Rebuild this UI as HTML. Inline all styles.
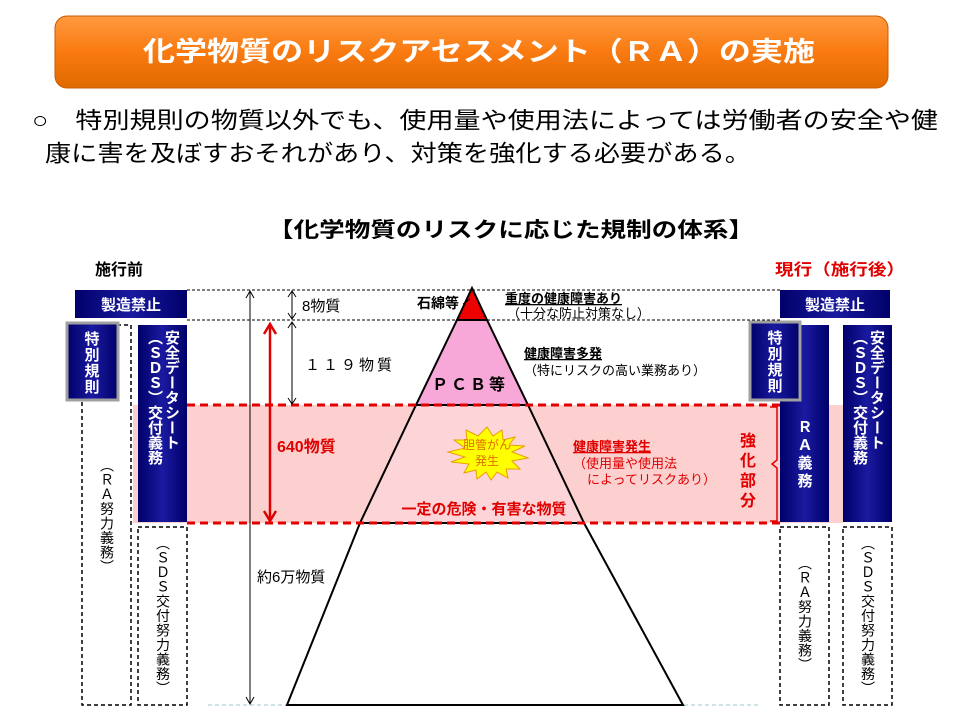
<!DOCTYPE html>
<html><head><meta charset="utf-8"><style>
html,body{margin:0;padding:0;background:#fff;}
body{position:relative;width:960px;height:720px;overflow:hidden;}
svg{display:block;font-family:"Liberation Sans","Noto Sans CJK JP",sans-serif;}
.v{position:absolute;writing-mode:vertical-rl;text-orientation:upright;font-family:"Liberation Sans","Noto Sans CJK JP",sans-serif;white-space:nowrap;}
.w{color:#fff;font-weight:bold;font-size:15px;line-height:17px;}
.d{color:#000;font-size:14px;line-height:15px;letter-spacing:0.5px;}
</style></head><body>
<svg width="960" height="720" viewBox="0 0 960 720" xmlns="http://www.w3.org/2000/svg">
<defs>
<linearGradient id="og" x1="0" y1="0" x2="0" y2="1"><stop offset="0" stop-color="#ff9a40"/><stop offset="0.5" stop-color="#f97a10"/><stop offset="1" stop-color="#e06a00"/></linearGradient>
<linearGradient id="nv" x1="0" y1="0" x2="1" y2="0"><stop offset="0" stop-color="#00006a"/><stop offset="0.5" stop-color="#1a1aa0"/><stop offset="1" stop-color="#00006a"/></linearGradient>
</defs>
<rect x="55" y="16" width="833" height="72" rx="12" fill="url(#og)" stroke="#c85a00" stroke-width="1"/>
<text x="479" y="61" text-anchor="middle" font-size="27" font-weight="bold" fill="#fff" textLength="672" lengthAdjust="spacingAndGlyphs">化学物質のリスクアセスメント（ＲＡ）の実施</text>
<text x="32" y="128" font-size="23" fill="#000" textLength="906" lengthAdjust="spacingAndGlyphs">○　特別規則の物質以外でも、使用量や使用法によっては労働者の安全や健</text>
<text x="45" y="161" font-size="23" fill="#000" textLength="706" lengthAdjust="spacingAndGlyphs">康に害を及ぼすおそれがあり、対策を強化する必要がある。</text>
<text x="511" y="237" text-anchor="middle" font-size="21" font-weight="bold" textLength="486" lengthAdjust="spacingAndGlyphs">【化学物質のリスクに応じた規制の体系】</text>
<text x="95" y="275" font-size="16" font-weight="bold">施行前</text>
<text x="775" y="275" font-size="16" font-weight="bold" fill="#e00000" textLength="130" lengthAdjust="spacingAndGlyphs">現行（施行後）</text>

<rect x="133" y="405" width="710" height="118" fill="#fdd0d0"/>
<line x1="187" y1="290" x2="780" y2="290" stroke="#000" stroke-width="1" stroke-dasharray="3,2"/>
<line x1="187" y1="320" x2="780" y2="320" stroke="#000" stroke-width="1" stroke-dasharray="3,2"/>
<line x1="208" y1="705" x2="760" y2="705" stroke="#a0c8d0" stroke-width="1" stroke-dasharray="4,3"/>

<polygon points="360,523 584,523 683,705 287,705" fill="#fff" stroke="#000" stroke-width="2"/>
<polygon points="416,405 528,405 584,523 360,523" fill="#fdd4d8" stroke="#000" stroke-width="2"/>
<polygon points="457,320 487,320 528,405 416,405" fill="#f8a8d8" stroke="#000" stroke-width="2"/>
<polygon points="472,288 487,320 457,320" fill="#ee0000" stroke="#000" stroke-width="2"/>
<line x1="187" y1="405" x2="780" y2="405" stroke="#e00000" stroke-width="3" stroke-dasharray="8,5"/>
<line x1="187" y1="523" x2="780" y2="523" stroke="#e00000" stroke-width="3" stroke-dasharray="8,5"/>

<g stroke="#000" stroke-width="1" fill="none">
<line x1="250" y1="291" x2="250" y2="704"/><polyline points="246,298 250,291 254,298"/><polyline points="246,697 250,704 254,697"/>
<line x1="292" y1="291" x2="292" y2="319"/><polyline points="288,297 292,291 296,297"/><polyline points="288,313 292,319 296,313"/>
<line x1="292" y1="322" x2="292" y2="404"/><polyline points="288,328 292,322 296,328"/><polyline points="288,398 292,404 296,398"/>
</g>
<g stroke="#e00000" stroke-width="2.5" fill="none">
<line x1="270" y1="325" x2="270" y2="520"/><polyline points="264,334 270,324 276,334"/><polyline points="264,511 270,521 276,511"/>
<path d="M770,407 H777 V460 L772,464 L777,468 V521 H770" stroke-width="1.5"/>
</g>
<text x="302" y="311" font-size="15">8物質</text>
<text x="305" y="370" font-size="15" letter-spacing="3">１１９物質</text>
<text x="277" y="452" font-size="16" font-weight="bold" fill="#e00000">640物質</text>
<text x="257" y="582" font-size="15">約6万物質</text>

<line x1="463" y1="304" x2="470" y2="299" stroke="#000"/>
<text x="417" y="308" font-size="14" font-weight="bold">石綿等</text>
<text x="505" y="303" font-size="13" font-weight="bold" text-decoration="underline">重度の健康障害あり</text>
<text x="507" y="318" font-size="13">（十分な防止対策なし）</text>
<text x="524" y="358" font-size="13" font-weight="bold" text-decoration="underline">健康障害多発</text>
<text x="524" y="375" font-size="13">（特にリスクの高い業務あり）</text>
<text x="470" y="390" text-anchor="middle" font-size="16" font-weight="bold" letter-spacing="3">ＰＣＢ等</text>
<polygon fill="#ffff00" stroke="#e8a000" stroke-width="1" points="487,427 493,436 502,430 503,440 515,437 509,445 525,446 512,452 528,458 512,461 520,469 506,469 508,478 497,472 491,480 486,472 477,479 476,470 464,473 469,464 451,462 465,457 448,452 465,448 454,440 467,440 466,430 478,436"/>
<text x="487" y="449" text-anchor="middle" font-size="12" fill="#e07000">胆管がん</text>
<text x="487" y="465" text-anchor="middle" font-size="12" fill="#e07000">発生</text>
<text x="573" y="451" font-size="13" font-weight="bold" fill="#e00000" text-decoration="underline">健康障害発生</text>
<text x="573" y="468" font-size="13" fill="#e00000">（使用量や使用法</text>
<text x="587" y="484" font-size="13" fill="#e00000">によってリスクあり）</text>
<text x="484" y="514" text-anchor="middle" font-size="15" font-weight="bold" fill="#e00000">一定の危険・有害な物質</text>
<g font-size="16" font-weight="bold" fill="#e00000" text-anchor="middle">
<text x="748" y="446">強</text><text x="748" y="466">化</text><text x="748" y="486">部</text><text x="748" y="506">分</text>
</g>

<rect x="75" y="290" width="112" height="28" fill="url(#nv)"/>
<text x="131" y="310" text-anchor="middle" font-size="15" font-weight="bold" fill="#fff">製造禁止</text>
<rect x="82" y="325" width="49" height="380" fill="none" stroke="#000" stroke-width="1.5" stroke-dasharray="4,3"/>
<rect x="67" y="323" width="51" height="77" fill="url(#nv)" stroke="#a0a0a0" stroke-width="3"/>
<g font-size="15" font-weight="bold" fill="#fff" text-anchor="middle"><text x="92" y="344">特</text><text x="92" y="360">別</text><text x="92" y="376">規</text><text x="92" y="392">則</text></g>
<rect x="138" y="325" width="49" height="197" fill="url(#nv)"/>
<rect x="138" y="527" width="49" height="178" fill="none" stroke="#000" stroke-width="1.5" stroke-dasharray="4,3"/>

<rect x="780" y="290" width="110" height="28" fill="url(#nv)"/>
<text x="835" y="310" text-anchor="middle" font-size="15" font-weight="bold" fill="#fff">製造禁止</text>
<rect x="780" y="325" width="49" height="197" fill="url(#nv)"/>
<g font-size="15" font-weight="bold" fill="#fff" text-anchor="middle"><text x="805" y="432">Ｒ</text><text x="805" y="450">Ａ</text><text x="805" y="468">義</text><text x="805" y="486">務</text></g>
<rect x="750" y="322" width="50" height="78" fill="url(#nv)" stroke="#a0a0a0" stroke-width="3"/>
<g font-size="15" font-weight="bold" fill="#fff" text-anchor="middle"><text x="775" y="343">特</text><text x="775" y="359">別</text><text x="775" y="375">規</text><text x="775" y="391">則</text></g>
<rect x="843" y="325" width="49" height="197" fill="url(#nv)"/>
<rect x="780" y="527" width="49" height="178" fill="none" stroke="#000" stroke-width="1.5" stroke-dasharray="4,3"/>
<rect x="843" y="527" width="49" height="178" fill="none" stroke="#000" stroke-width="1.5" stroke-dasharray="4,3"/>
</svg>
<div class="v w" style="left:146px;top:330px;height:190px;">安全データシート<br>（ＳＤＳ）交付義務</div>
<div class="v w" style="left:851px;top:330px;height:190px;">安全データシート<br>（ＳＤＳ）交付義務</div>
<div class="v d" style="left:99px;top:458px;">（ＲＡ努力義務）</div>
<div class="v d" style="left:155px;top:536px;">（ＳＤＳ交付努力義務）</div>
<div class="v d" style="left:797px;top:556px;">（ＲＡ努力義務）</div>
<div class="v d" style="left:860px;top:536px;">（ＳＤＳ交付努力義務）</div>
</body></html>
